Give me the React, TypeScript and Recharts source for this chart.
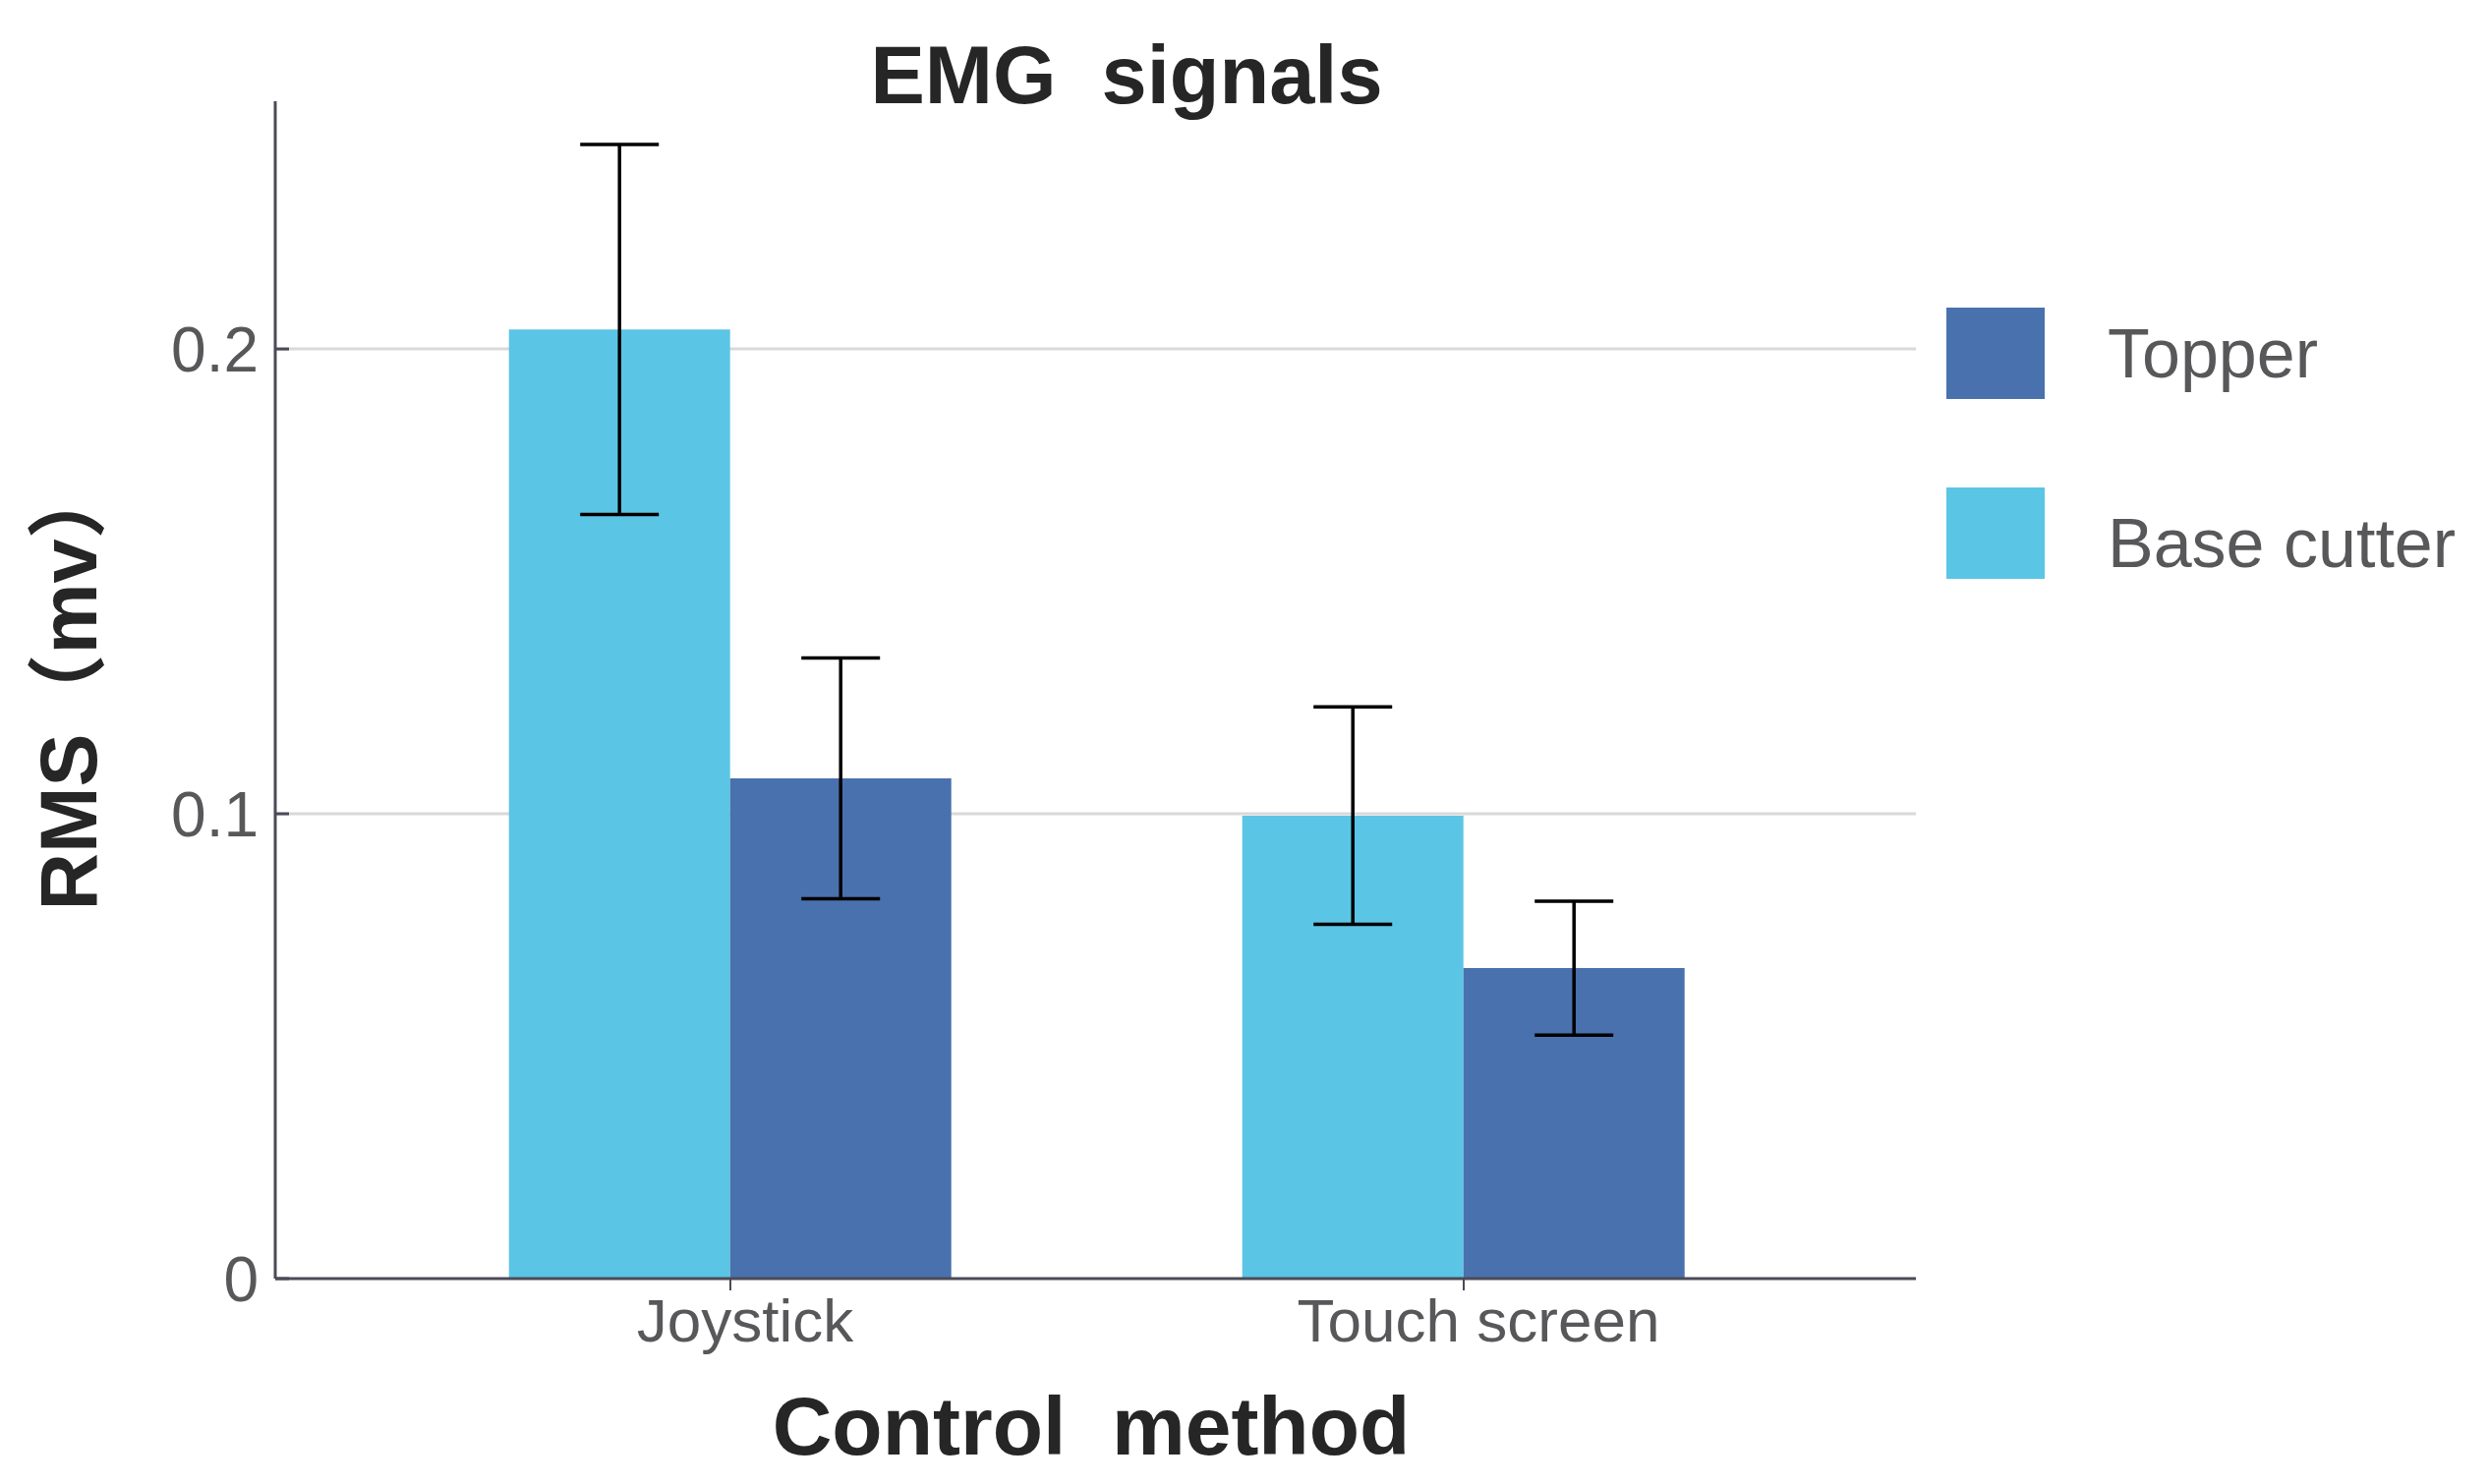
import { BarChart, Bar, XAxis, YAxis, CartesianGrid, ErrorBar } from 'recharts';

const categories = ['Joystick', 'Touch screen'];
const baseCutter = [0.2042, 0.0996];
const baseCutterErr = [0.0398, 0.0234];
const topper = [0.1076, 0.0668];
const topperErr = [0.0259, 0.0144];
const yTicks = [0, 0.1, 0.2];
const gridValues = [0.1, 0.2];
const legendItems = [
    { name: 'Topper', color: '#4971AD' },
    { name: 'Base cutter', color: '#5BC5E5' },
];

const data = categories.map((category, i) => ({
    category,
    base: baseCutter[i],
    baseErr: baseCutterErr[i],
    topper: topper[i],
    topperErr: topperErr[i],
}));

const FONT = '"Liberation Sans", Arial, "Noto Sans CJK SC", sans-serif';
const AXIS = '#4b4a57';
const TICK = '#58585b';

export default function App() {
    return (
        <div style={{ position: 'absolute', left: 0, top: 0, width: 2532, height: 1510, background: '#fff' }}>
            <BarChart
                width={2532}
                height={1510}
                data={data}
                margin={{ top: 103, right: 583, bottom: 0, left: 0 }}
                barCategoryGap="19.8%"
                barGap={0}
            >
                <CartesianGrid
                    horizontal
                    vertical={false}
                    horizontalValues={gridValues}
                    stroke="#d9d9d9"
                    strokeWidth={3}
                />
                <XAxis
                    dataKey="category"
                    height={209}
                    padding={{ left: 90, right: 87 }}
                    axisLine={{ stroke: AXIS, strokeWidth: 3 }}
                    tickLine={{ stroke: AXIS, strokeWidth: 2 }}
                    tickSize={12}
                    tickMargin={8}
                    tick={{ fill: TICK, fontSize: 62, fontFamily: FONT, dx: 15 }}
                />
                <YAxis
                    width={280}
                    domain={[0, 0.2533]}
                    allowDataOverflow
                    ticks={yTicks}
                    tickFormatter={(v: number) => (v === 0 ? '0' : v.toFixed(1))}
                    axisLine={{ stroke: AXIS, strokeWidth: 3 }}
                    tickLine={{ stroke: AXIS, strokeWidth: 3 }}
                    tickSize={-14}
                    tickMargin={31}
                    tick={{ fill: TICK, fontSize: 64, fontFamily: FONT }}
                />
                <Bar dataKey="base" name="Base cutter" fill="#5BC5E5" isAnimationActive={false}>
                    <ErrorBar dataKey="baseErr" width={40} stroke="#000" strokeWidth={3.5} direction="y" />
                </Bar>
                <Bar dataKey="topper" name="Topper" fill="#4971AD" isAnimationActive={false}>
                    <ErrorBar dataKey="topperErr" width={40} stroke="#000" strokeWidth={3.5} direction="y" />
                </Bar>
            </BarChart>
            <svg
                width={2532}
                height={1510}
                style={{ position: 'absolute', left: 0, top: 0, pointerEvents: 'none' }}
                fontFamily={FONT}
                fontWeight="bold"
                fill="#262626"
            >
                <text x={1146} y={105} fontSize={83} textAnchor="middle" style={{ whiteSpace: 'pre' }}>
                    EMG  signals
                </text>
                <text x={1110} y={1480} fontSize={84} textAnchor="middle" style={{ whiteSpace: 'pre' }}>
                    Control  method
                </text>
                <text x={98} y={697} fontSize={81} textAnchor="middle" transform="rotate(-90 98 697)">
                    RMS（mv）
                </text>
            </svg>
            <div style={{ position: 'absolute', left: 1980, top: 313, fontFamily: FONT }}>
                {legendItems.map((item, i) => (
                    <div key={item.name} style={{ display: 'flex', alignItems: 'center', height: 93, marginBottom: 90 }}>
                        <div style={{ width: 100, height: 93, background: item.color }} />
                        <span
                            style={{
                                marginLeft: 64,
                                fontSize: 70,
                                lineHeight: 1,
                                color: TICK,
                                whiteSpace: 'nowrap',
                                position: 'relative',
                                top: i === 1 ? 10 : 0,
                            }}
                        >
                            {item.name}
                        </span>
                    </div>
                ))}
            </div>
        </div>
    );
}
